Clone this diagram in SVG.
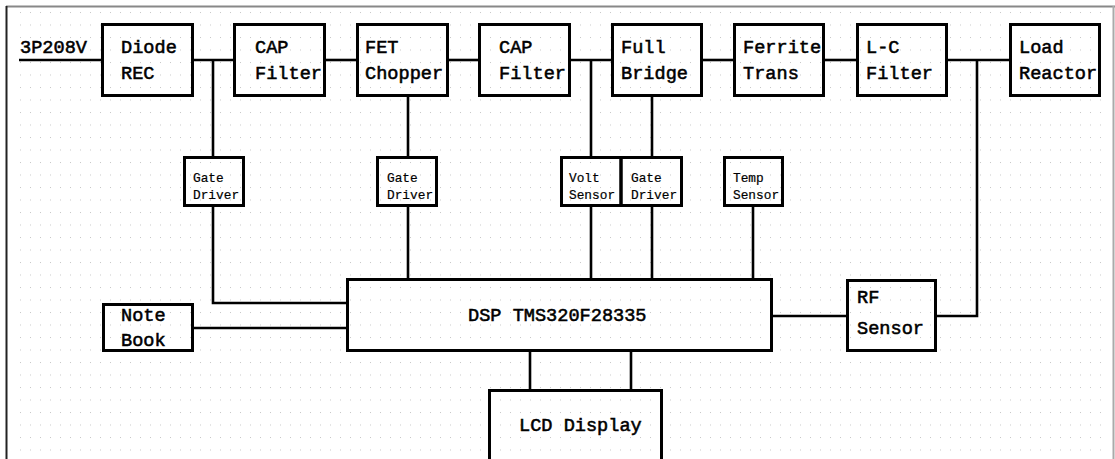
<svg xmlns="http://www.w3.org/2000/svg" width="1115" height="459" viewBox="0 0 1115 459">
<defs>
<pattern id="grid" patternUnits="userSpaceOnUse" x="20" y="12" width="10" height="12.5">
<rect x="0" y="0" width="1" height="1" fill="#c8c8c8"/>
</pattern>
<style>
.box{fill:none;stroke:#000;stroke-width:3}
.ln{fill:none;stroke:#000;stroke-width:2.6}
.t{font-family:"Liberation Mono","Courier New",monospace;font-size:18.6px;font-weight:normal;fill:#000;stroke:#000;stroke-width:0.55}
.s{font-family:"Liberation Mono","Courier New",monospace;font-size:12.8px;fill:#000;stroke:#000;stroke-width:0.2}
</style>
</defs>
<rect x="0" y="0" width="1115" height="459" fill="#fff"/>
<rect x="15" y="10" width="1092" height="449" fill="url(#grid)"/>
<line x1="6" y1="6.5" x2="1115" y2="6.5" stroke="#888" stroke-width="2"/>
<line x1="6.5" y1="6" x2="6.5" y2="459" stroke="#222" stroke-width="2"/>
<line x1="1113.5" y1="6" x2="1113.5" y2="459" stroke="#aaa" stroke-width="2"/>

<g id="connectors">
<path class="ln" d="M19 60H102"/>
<path class="ln" d="M194 60H233"/>
<path class="ln" d="M326 60H356"/>
<path class="ln" d="M449 60H478"/>
<path class="ln" d="M571 60H611"/>
<path class="ln" d="M703 60H733"/>
<path class="ln" d="M825 60H856"/>
<path class="ln" d="M948 60H1009"/>
<path class="ln" d="M213 60V156"/>
<path class="ln" d="M213 207V303H346"/>
<path class="ln" d="M408 97V156"/>
<path class="ln" d="M408 207V278"/>
<path class="ln" d="M591 60V156"/>
<path class="ln" d="M591 207V278"/>
<path class="ln" d="M652 97V156"/>
<path class="ln" d="M652 207V278"/>
<path class="ln" d="M753 207V278"/>
<path class="ln" d="M194 328H346"/>
<path class="ln" d="M773 316H846"/>
<path class="ln" d="M937 316H977V60"/>
<path class="ln" d="M530 352V389"/>
<path class="ln" d="M631 352V389"/>
</g>

<text class="t" x="20" y="53">3P208V</text>

<g id="diode-rec"><rect class="box" x="102.5" y="24.5" width="90" height="71"/><text class="t" x="121" y="53">Diode</text><text class="t" x="121" y="79">REC</text></g>
<g id="cap-filter-1"><rect class="box" x="234.5" y="24.5" width="90" height="71"/><text class="t" x="255" y="53">CAP</text><text class="t" x="255" y="79">Filter</text></g>
<g id="fet-chopper"><rect class="box" x="357.5" y="24.5" width="90" height="71"/><text class="t" x="365" y="53">FET</text><text class="t" x="365" y="79">Chopper</text></g>
<g id="cap-filter-2"><rect class="box" x="479.5" y="24.5" width="90" height="71"/><text class="t" x="499" y="53">CAP</text><text class="t" x="499" y="79">Filter</text></g>
<g id="full-bridge"><rect class="box" x="612.5" y="24.5" width="89" height="71"/><text class="t" x="621" y="53">Full</text><text class="t" x="621" y="79">Bridge</text></g>
<g id="ferrite-trans"><rect class="box" x="734.5" y="24.5" width="89" height="71"/><text class="t" x="743" y="53">Ferrite</text><text class="t" x="743" y="79">Trans</text></g>
<g id="lc-filter"><rect class="box" x="857.5" y="24.5" width="89" height="71"/><text class="t" x="866" y="53">L-C</text><text class="t" x="866" y="79">Filter</text></g>
<g id="load-reactor"><rect class="box" x="1010.5" y="24.5" width="89" height="71"/><text class="t" x="1019" y="53">Load</text><text class="t" x="1019" y="79">Reactor</text></g>

<g id="gate-driver-1"><rect class="box" x="184.5" y="157.5" width="59" height="48"/><text class="s" x="193" y="182">Gate</text><text class="s" x="193" y="199">Driver</text></g>
<g id="gate-driver-2"><rect class="box" x="377.5" y="157.5" width="59" height="48"/><text class="s" x="387" y="182">Gate</text><text class="s" x="387" y="199">Driver</text></g>
<g id="volt-sensor"><rect class="box" x="561.5" y="157.5" width="59.5" height="48"/><text class="s" x="569" y="182">Volt</text><text class="s" x="569" y="199">Sensor</text></g>
<g id="gate-driver-3"><rect class="box" x="621" y="157.5" width="60.5" height="48"/><text class="s" x="631" y="182">Gate</text><text class="s" x="631" y="199">Driver</text></g>
<g id="temp-sensor"><rect class="box" x="724.5" y="157.5" width="58" height="48"/><text class="s" x="733" y="182">Temp</text><text class="s" x="733" y="199">Sensor</text></g>

<g id="dsp"><rect class="box" x="347.5" y="279.5" width="424" height="71"/><text class="t" x="468" y="321">DSP TMS320F28335</text></g>
<g id="note-book"><rect class="box" x="103.5" y="304.5" width="89" height="46"/><text class="t" x="121" y="321">Note</text><text class="t" x="121" y="346">Book</text></g>
<g id="rf-sensor"><rect class="box" x="847.5" y="280.5" width="88" height="70"/><text class="t" x="857" y="303">RF</text><text class="t" x="857" y="334">Sensor</text></g>
<g id="lcd-display"><rect class="box" x="489.5" y="390.5" width="172" height="80"/><text class="t" x="519" y="431">LCD Display</text></g>
</svg>
